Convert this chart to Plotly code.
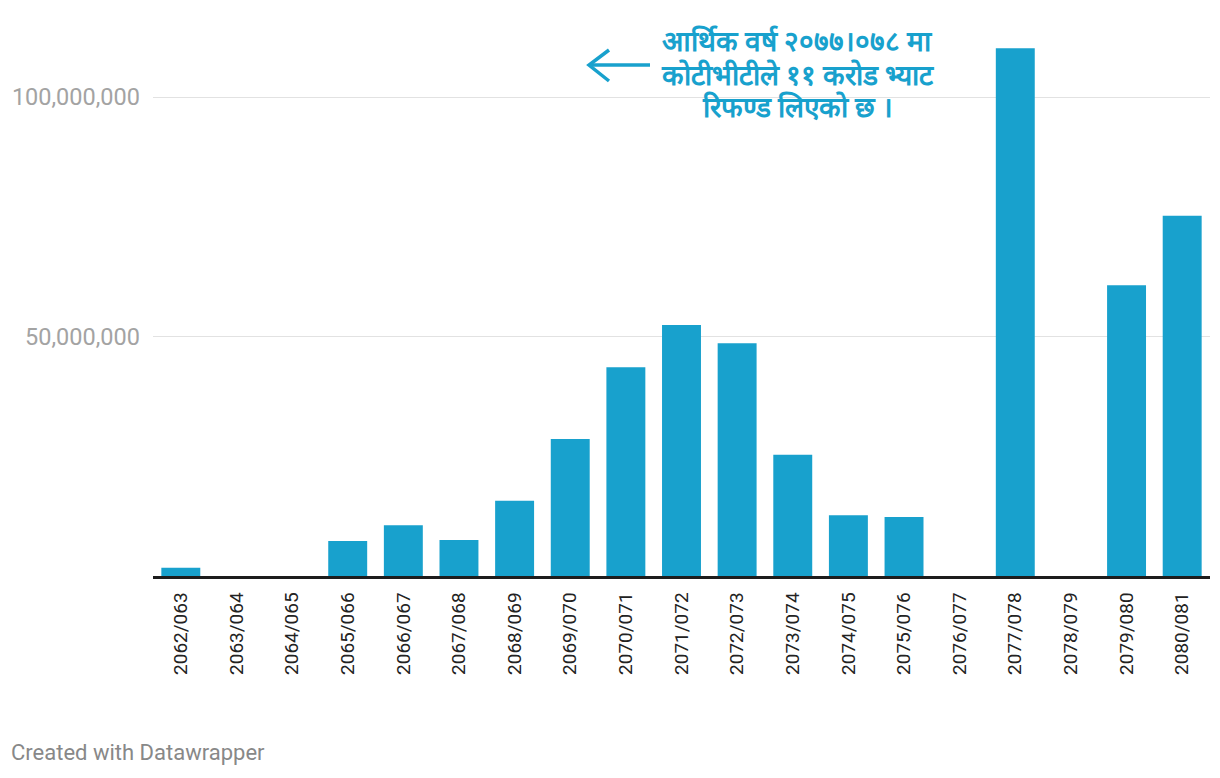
import plotly.graph_objects as go

years = ["2062/063", "2063/064", "2064/065", "2065/066", "2066/067", "2067/068",
         "2068/069", "2069/070", "2070/071", "2071/072", "2072/073", "2073/074",
         "2074/075", "2075/076", "2076/077", "2077/078", "2078/079", "2079/080",
         "2080/081"]
refund = [1_700_000, 0, 0, 7_300_000, 10_600_000, 7_500_000,
          15_700_000, 28_600_000, 43_600_000, 52_400_000, 48_600_000, 25_300_000,
          12_700_000, 12_300_000, 0, 110_200_000, 0, 60_700_000,
          75_200_000]
y_ticks = [50_000_000, 100_000_000]
y_tick_labels = ["50,000,000", "100,000,000"]
note_lines = ["आर्थिक वर्ष २०७७।०७८ मा", "कोटीभीटीले ११ करोड भ्याट", "रिफण्ड लिएको छ ।"]

BLUE = "#18a1cd"
OFF = 8  # page body margin
W, H = 1220 - OFF, 778 - OFF
L, R, T, B = 145, 10, 32, 202
pw, ph = W - L - R, H - T - B

def px(x):
    return (x - OFF - L) / pw

def py(y):
    return (H - B - (y - OFF)) / ph

fig = go.Figure(go.Bar(x=years, y=refund, marker_color=BLUE,
                       marker_line_width=0, hoverinfo="x+y"))

fig.update_layout(
    width=W, height=H,
    margin=dict(l=L, r=R, t=T, b=B, autoexpand=False),
    paper_bgcolor="white", plot_bgcolor="white",
    bargap=0.3,
    showlegend=False,
    font=dict(family="Roboto", color="#333"),
)
fig.update_xaxes(
    type="category", tickangle=-90, showgrid=False, automargin=False,
    showline=True, linecolor="#1d1d1d", linewidth=2.5,
    ticks="", tickfont=dict(size=19, color="#222", family="Roboto"),
    ticklabelstandoff=6,
)
fig.update_yaxes(
    range=[0, (H - B - T) / 4.79 * 1_000_000], automargin=False,
    tickvals=y_ticks, ticktext=y_tick_labels,
    showgrid=True, gridcolor="#e2e2e2", gridwidth=1,
    zeroline=False, ticks="",
    tickfont=dict(size=23.5, color="#a3a3a3", family="Roboto"),
    ticklabelstandoff=12,
)

for line, yc in zip(note_lines, [42, 75, 107]):
    fig.add_annotation(
        xref="paper", yref="paper", x=px(797), y=py(yc),
        text=f"<b>{line}</b>", showarrow=False, xanchor="center", yanchor="middle",
        font=dict(size=28, color=BLUE, family="Roboto"),
    )
# arrow pointing left
fig.add_shape(type="line", xref="paper", yref="paper",
              x0=px(589), y0=py(65), x1=px(650), y1=py(65),
              line=dict(color=BLUE, width=3.5))
fig.add_shape(type="path", xref="paper", yref="paper",
              path=f"M {px(609)} {py(50)} L {px(589)} {py(65)} L {px(609)} {py(81)}",
              line=dict(color=BLUE, width=3.5))

fig.add_annotation(
    xref="paper", yref="paper", x=px(9), y=py(752),
    text="Created with Datawrapper", showarrow=False,
    xanchor="left", yanchor="middle",
    font=dict(size=22, color="#888888", family="Roboto"),
)

fig.write_html("out.html")
